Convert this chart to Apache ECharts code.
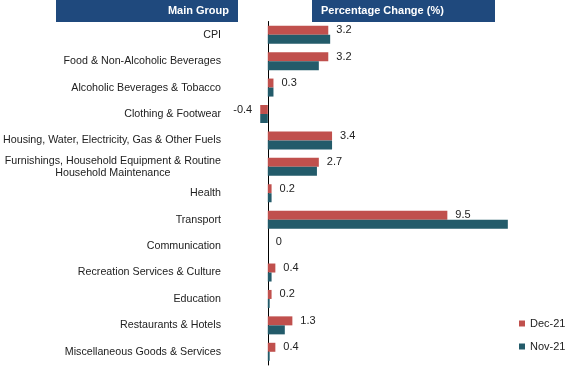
<!DOCTYPE html>
<html><head><meta charset="utf-8">
<script src="https://cdn.jsdelivr.net/npm/echarts@6/dist/echarts.min.js"></script>
<style>html,body{margin:0;padding:0;background:#fff}#c{width:583px;height:382px}</style>
</head><body><div id="c"></div>
<script>
const categories = [
  'CPI',
  'Food & Non-Alcoholic Beverages',
  'Alcoholic Beverages & Tobacco',
  'Clothing & Footwear',
  'Housing, Water, Electricity, Gas & Other Fuels',
  'Furnishings, Household Equipment & Routine\nHousehold Maintenance',
  'Health',
  'Transport',
  'Communication',
  'Recreation Services & Culture',
  'Education',
  'Restaurants & Hotels',
  'Miscellaneous Goods & Services'
];
const dec21 = [3.2, 3.2, 0.3, -0.4, 3.4, 2.7, 0.2, 9.5, 0, 0.4, 0.2, 1.3, 0.4];
const nov21 = [3.3, 2.7, 0.3, -0.4, 3.4, 2.6, 0.2, 12.7, 0, 0.2, 0.1, 0.9, 0.1];
const seriesNames = ['Dec-21', 'Nov-21'];
const headers = ['Main Group', 'Percentage Change (%)'];

const chart = echarts.init(document.getElementById('c'), null, {renderer: 'canvas'});
const FONT = 'Liberation Sans, Arial, sans-serif';
const decData = dec21.map(v => v < 0 ? {value: v, label: {position: 'left'}} : v);

chart.setOption({
  animation: false,
  textStyle: {fontFamily: FONT},
  grid: {left: 230, width: 302.4, top: 21.5, bottom: 17, containLabel: false, outerBoundsMode: 'none'},
  xAxis: {
    type: 'value', min: -2, max: 14, show: false
  },
  yAxis: {
    type: 'category', data: categories, inverse: true,
    axisLine: {show: true, onZero: true, lineStyle: {color: '#000', width: 1}},
    axisTick: {show: false},
    axisLabel: {
      margin: 9, fontSize: 10.7, color: '#222', fontFamily: FONT,
      formatter: v => v.split('\n').map(s => '{a|' + s + '}').join('\n'),
      rich: {a: {align: 'center', fontSize: 10.7, color: '#222', fontFamily: FONT, lineHeight: 12}}
    }
  },
  legend: {
    orient: 'vertical', left: 514, top: 313, itemWidth: 6, itemHeight: 6, itemGap: 12,
    icon: 'rect', textStyle: {fontSize: 11, color: '#222', fontFamily: FONT},
    data: seriesNames
  },
  series: [
    {
      name: seriesNames[0], type: 'bar', data: decData, barWidth: 9, barGap: '0%',
      itemStyle: {color: '#c0504d'},
      label: {show: true, position: 'right', distance: 8, fontSize: 11, color: '#222', fontFamily: FONT}
    },
    {
      name: seriesNames[1], type: 'bar', data: nov21, barWidth: 9, barGap: '0%',
      itemStyle: {color: '#235b6a'}
    }
  ],
  graphic: [
    {type: 'rect', shape: {x: 56, y: 0, width: 182, height: 22}, style: {fill: '#1f497d'}},
    {type: 'text', style: {x: 229, y: 11, text: headers[0], fill: '#fff', font: 'bold 11px ' + FONT, align: 'right', verticalAlign: 'middle'}},
    {type: 'rect', shape: {x: 312, y: 0, width: 183, height: 22}, style: {fill: '#1f497d'}},
    {type: 'text', style: {x: 321, y: 11, text: headers[1], fill: '#fff', font: 'bold 11px ' + FONT, align: 'left', verticalAlign: 'middle'}}
  ]
});
</script></body></html>
